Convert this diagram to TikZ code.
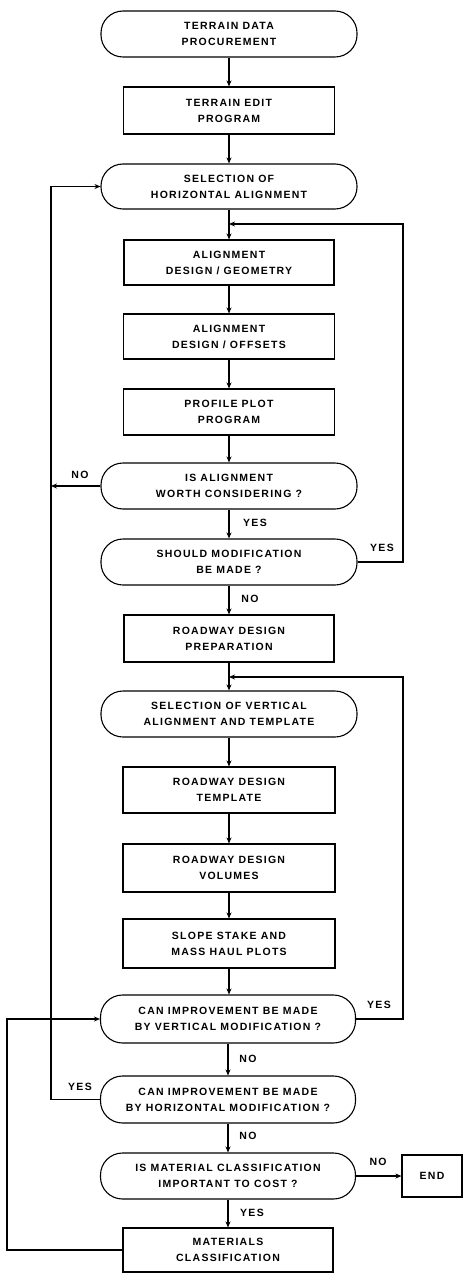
\documentclass[tikz,border=0pt]{standalone}
\usepackage{fontspec}
\setmainfont{Liberation Sans}
\newfontfamily\lblfont[LetterSpace=12]{Liberation Sans}
\usetikzlibrary{arrows.meta}
\begin{document}
\begin{tikzpicture}[x=1pt,y=-1pt,
  lw/.style={line width=1.1pt},
  proc/.style={draw, lw, inner sep=0pt, align=center, minimum width=211pt, minimum height=46pt,
    font=\lblfont\bfseries\fontsize{10.5}{16}\selectfont},
  term/.style={proc, rounded corners=22pt, minimum width=256pt},
  lab/.style={font=\lblfont\bfseries\fontsize{10.5}{12}\selectfont, inner sep=0pt},
  arr/.style={lw, -{Stealth[length=6pt,width=5pt]}}]
\useasboundingbox (0,0) rectangle (463,1273);

\node[term] (n1) at (229,34) {TERRAIN DATA\\PROCUREMENT};
\node[proc, minimum height=47pt] (n2) at (229,110.5) {TERRAIN EDIT\\PROGRAM};
\node[term, minimum height=45pt] (n3) at (229,186.5) {SELECTION OF\\HORIZONTAL ALIGNMENT};
\node[proc, minimum width=210pt, minimum height=45pt] (n4) at (229,262.5) {ALIGNMENT\\DESIGN / GEOMETRY};
\node[proc, minimum height=45pt] (n5) at (229,336.5) {ALIGNMENT\\DESIGN / OFFSETS};
\node[proc] (n6) at (229,412) {PROFILE PLOT\\PROGRAM};
\node[term] (n7) at (229,486) {IS ALIGNMENT\\WORTH CONSIDERING ?};
\node[term] (n8) at (229,562) {SHOULD MODIFICATION\\BE MADE ?};
\node[proc, minimum width=210pt, minimum height=47pt] (n9) at (229,638.5) {ROADWAY DESIGN\\PREPARATION};
\node[term] (n10) at (229,714) {SELECTION OF VERTICAL\\ALIGNMENT AND TEMPLATE};
\node[proc, minimum width=212pt] (n11) at (229,790) {ROADWAY DESIGN\\TEMPLATE};
\node[proc, minimum width=212pt, minimum height=48pt] (n12) at (229,868) {ROADWAY DESIGN\\VOLUMES};
\node[proc, minimum width=212pt, minimum height=49pt] (n13) at (229,943.5) {SLOPE STAKE AND\\MASS HAUL PLOTS};
\node[term, minimum width=255pt, minimum height=48pt] (n14) at (228,1019) {CAN IMPROVEMENT BE MADE\\BY VERTICAL MODIFICATION ?};
\node[term, minimum width=255pt, minimum height=47pt] (n15) at (228,1099.5) {CAN IMPROVEMENT BE MADE\\BY HORIZONTAL MODIFICATION ?};
\node[term, minimum width=255pt] (n16) at (228,1176) {IS MATERIAL CLASSIFICATION\\IMPORTANT TO COST ?};
\node[proc, minimum width=60pt, minimum height=42pt] (n17) at (432,1176) {END};
\node[proc, minimum width=210pt, minimum height=44pt] (n18) at (228,1250) {MATERIALS\\CLASSIFICATION};

% main flow
\draw[arr] (n1) -- (n2);
\draw[arr] (n2) -- (n3);
\draw[arr] (n3) -- (n4);
\draw[arr] (n4) -- (n5);
\draw[arr] (n5) -- (n6);
\draw[arr] (n6) -- (n7);
\draw[arr] (n7) -- (n8);
\draw[arr] (n8) -- (n9);
\draw[arr] (n9) -- (n10);
\draw[arr] (n10) -- (n11);
\draw[arr] (n11) -- (n12);
\draw[arr] (n12) -- (n13);
\draw[arr] (n13.south) -- (n13.south |- n14.north);
\draw[arr] (n14.south) -- (n14.south |- n15.north);
\draw[arr] (n15) -- (n16);
\draw[arr] (n16) -- (n18);
\draw[arr] (n16) -- (n17);

% right loops
\coordinate (r1) at (403,224);
\coordinate (j1) at (229,224);
\draw[arr] (n8.east) -| (r1) -- (j1);
\coordinate (r2) at (403,677);
\coordinate (j2) at (229,677);
\draw[arr] (n14.east) -| (r2) -- (j2);

% left loops
\coordinate (lno) at (51,486);
\draw[arr] (n7.west) -- (lno);
\coordinate (lx) at (51,600);
\draw[arr] (n15.west) -| (lx) |- (n3.west);
\coordinate (ox) at (7,1100);
\draw[arr] (n18.west) -| (ox) |- (n14.west);

% labels
\node[lab] (t1) at (80,475) {NO};
\node[lab] (t2) at (255,523) {YES};
\node[lab] (t3) at (382,548) {YES};
\node[lab] (t4) at (250,599) {NO};
\node[lab] (t5) at (379,1005) {YES};
\node[lab] (t6) at (248,1059) {NO};
\node[lab] (t7) at (80,1087) {YES};
\node[lab] (t8) at (248,1136) {NO};
\node[lab] (t9) at (378,1162) {NO};
\node[lab] (t10) at (252,1213) {YES};
\end{tikzpicture}
\end{document}
